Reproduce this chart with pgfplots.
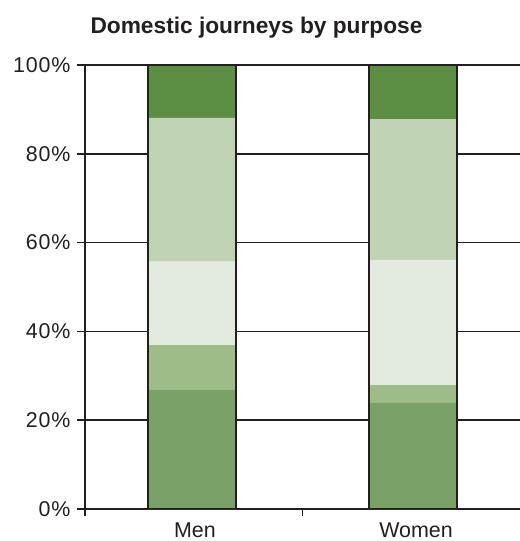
\documentclass[border=0pt]{standalone}
\usepackage{fontspec}
\setmainfont{Liberation Sans}
\usepackage{pgfplots}
\pgfplotsset{compat=1.18}
\definecolor{gA}{HTML}{7AA268}
\definecolor{gB}{HTML}{9EBB8A}
\definecolor{gC}{HTML}{E3EAE0}
\definecolor{gD}{HTML}{C0D3B5}
\definecolor{gE}{HTML}{5C8F43}
\definecolor{ink}{HTML}{231F20}
\begin{document}
\begin{tikzpicture}
\pgfplotsset{
  common/.style={
    at={(0,0)}, anchor=south west,
    scale only axis, width=435bp, height=444bp,
    xmin=-0.484, xmax=1.484, ymin=0, ymax=100,
    /pgf/number format/assume math mode=true,
    bar width=0.4,
  }
}
\begin{axis}[common,
  ybar stacked,
  axis x line*=bottom, axis y line*=left,
  axis line style={ink, line width=1.6bp},
  ymajorgrids, grid style={ink, line width=1.6bp},
  ytick={0,20,40,60,80,100},
  yticklabel={\pgfmathprintnumber{\tick}\%},
  yticklabel style={font=\fontsize{21.5}{21.5}\selectfont\addfontfeature{LetterSpace=4}, color=ink, xshift=-3bp},
  ytick style={ink, line width=1.6bp},
  major tick length=8bp, tick align=outside,
  xtick={0,1}, xticklabels={Men,Women},
  xticklabel style={font=\fontsize{21.5}{21.5}\selectfont, color=ink, anchor=base, yshift=-20bp, xshift=3bp},
  major x tick style={draw=none},
  extra x ticks={-0.484,0.5}, extra x tick labels={},
  extra x tick style={major x tick style={draw=ink, line width=1.6bp}, major tick length=7bp, grid=none},
  title={\bfseries Domestic journeys by purpose},
  title style={at={(axis description cs:0,1)}, anchor=base west, yshift=26bp, xshift=2bp, font=\fontsize{22.8}{22.8}\selectfont, color=ink},
]
\addplot[fill=gA, draw=none] coordinates {(0,26.8) (1,23.9)};
\addplot[fill=gB, draw=none] coordinates {(0,10.1) (1,4.0)};
\addplot[fill=gC, draw=none] coordinates {(0,18.8) (1,28.2)};
\addplot[fill=gD, draw=none] coordinates {(0,32.4) (1,31.7)};
\addplot[fill=gE, draw=none] coordinates {(0,11.9) (1,12.2)};
\end{axis}
\begin{axis}[common, ybar, axis lines=none, ticks=none]
\addplot[fill=none, draw=ink, line width=1.6bp] coordinates {(0,100) (1,100)};
\end{axis}
\pgfresetboundingbox
\path[use as bounding box] (-85bp,-32bp) rectangle (435bp,509bp);
\end{tikzpicture}
\end{document}
